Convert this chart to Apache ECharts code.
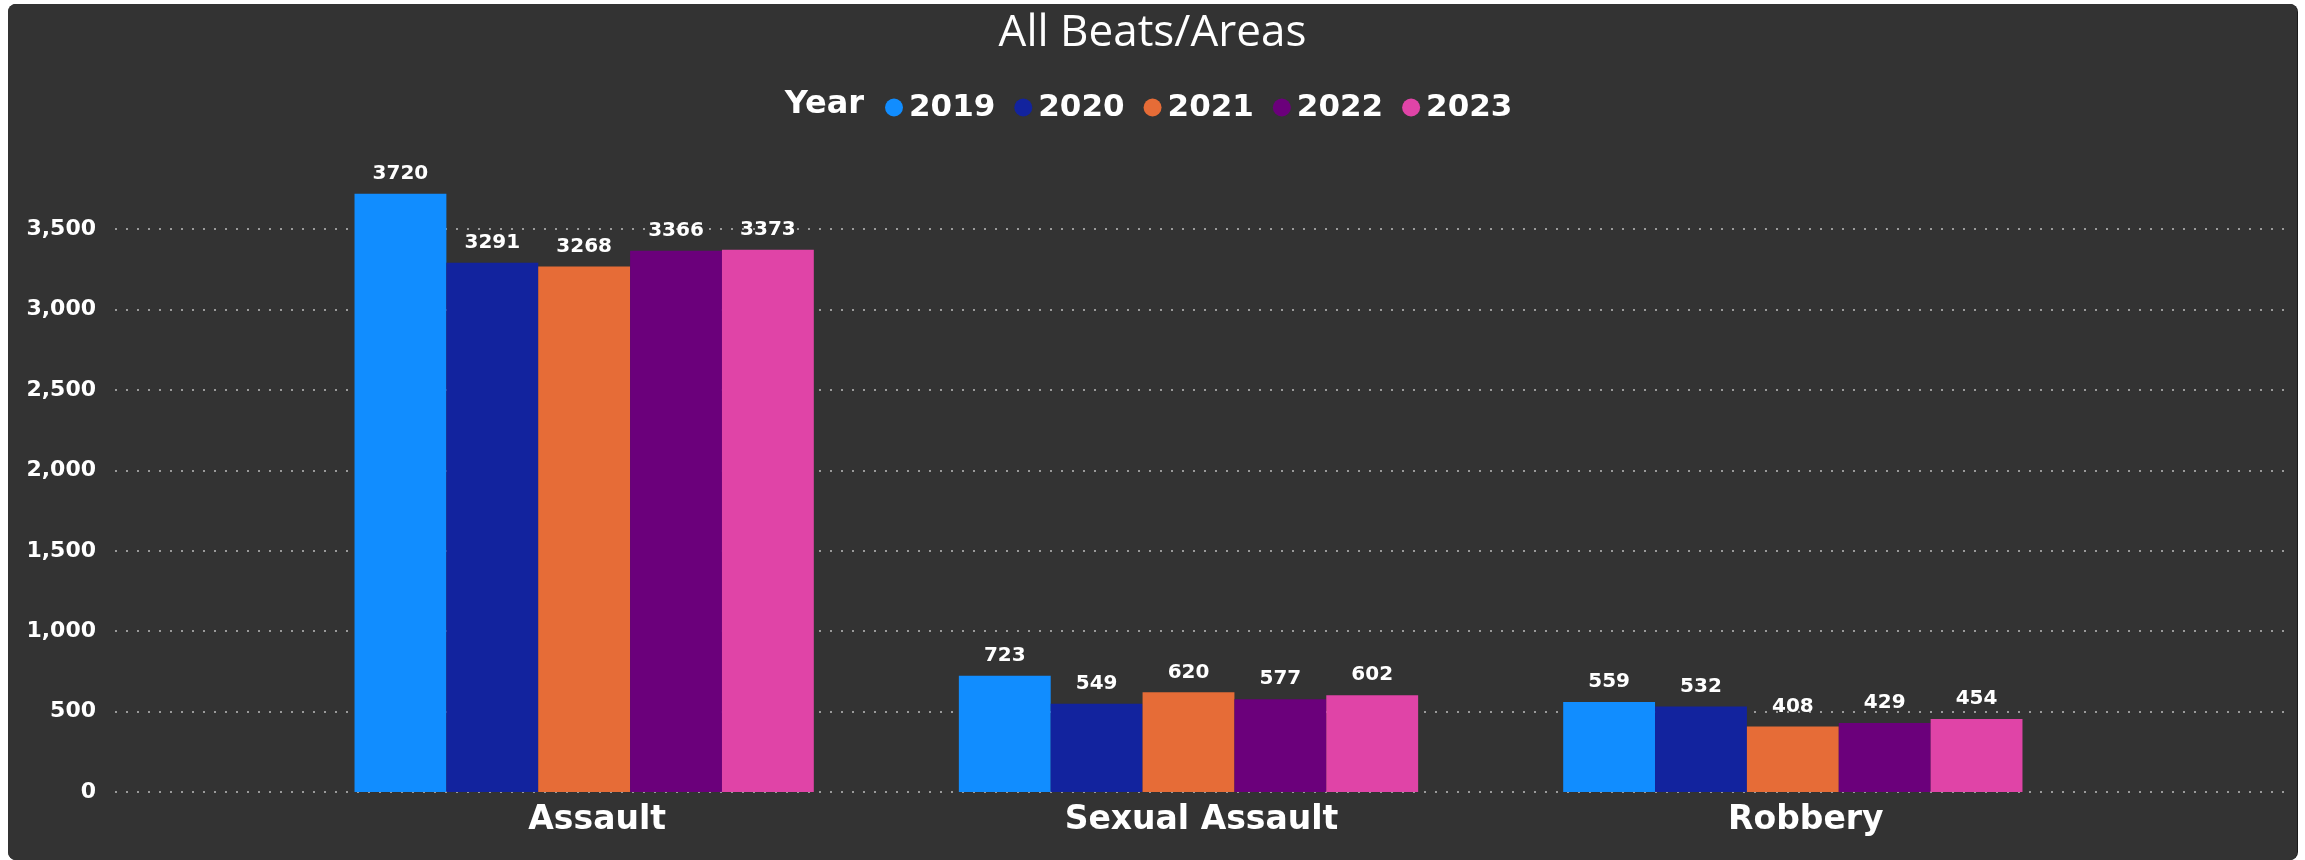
<!DOCTYPE html>
<html>
<head>
<meta charset="utf-8">
<script src="https://cdn.jsdelivr.net/npm/echarts@6/dist/echarts.min.js"></script>
<style>
  html, body { margin: 0; padding: 0; background: #ffffff; width: 2305px; height: 860px; overflow: hidden; }
  #card { position: absolute; left: 8px; top: 4px; width: 2289px; height: 856px; border-radius: 8px; overflow: hidden; background: #333333; box-shadow: 1px 0 0 #1a1a1a; }
  #chart { width: 2289px; height: 856px; }
</style>
</head>
<body>
<div id="card"><div id="chart"></div></div>
<script>
const categories = ['Assault', 'Sexual Assault', 'Robbery'];
const years = ['2019', '2020', '2021', '2022', '2023'];
const values2019 = [3720, 723, 559];
const values2020 = [3291, 549, 532];
const values2021 = [3268, 620, 408];
const values2022 = [3366, 577, 429];
const values2023 = [3373, 602, 454];
const colors = ['#118DFF', '#12239E', '#E66C37', '#6B007B', '#E044A7'];

const seriesValues = [values2019, values2020, values2021, values2022, values2023];
const boldFont = 'DejaVu Sans';

const chart = echarts.init(document.getElementById('chart'));
chart.setOption({
  backgroundColor: '#333333',
  animation: false,
  title: [
    { text: 'All Beats/Areas', left: 'center', top: 2,
      textStyle: { color: '#ffffff', fontFamily: 'Open Sans', fontWeight: 'normal', fontSize: 44 } },
    { text: 'Year', right: 2289 - 861, top: 80,
      textStyle: { color: '#ffffff', fontFamily: boldFont, fontWeight: 'bold', fontSize: 32 } }
  ],
  legend: {
    data: years,
    left: 872, top: 83,
    icon: 'circle', itemWidth: 18, itemHeight: 18, itemGap: 19,
    textStyle: { color: '#ffffff', fontFamily: boldFont, fontWeight: 'bold', fontSize: 31, padding: [0, 0, 0, 1] }
  },
  grid: [
    { left: 107, right: 11, top: 177, bottom: 68 },
    { left: 274, right: 202, top: 177, bottom: 68 }
  ],
  xAxis: [
    { type: 'category', gridIndex: 0, data: [''], show: false },
    { type: 'category', gridIndex: 1, data: categories,
      axisLine: { show: false }, axisTick: { show: false },
      axisLabel: { color: '#ffffff', fontFamily: boldFont, fontWeight: 'bold', fontSize: 33, margin: 12, padding: [0, 0, 0, 26] } }
  ],
  yAxis: [
    { type: 'value', gridIndex: 0, min: 0, max: 3800, interval: 500,
      axisLine: { show: false }, axisTick: { show: false },
      axisLabel: { color: '#ffffff', fontFamily: boldFont, fontWeight: 'bold', fontSize: 22, margin: 19, showMaxLabel: false },
      splitLine: { show: true, showMaxLine: false, lineStyle: { color: '#9a9a9a', width: 2, type: [2, 9] } } },
    { type: 'value', gridIndex: 1, min: 0, max: 3800, interval: 500, show: false,
      splitLine: { show: false } }
  ],
  series: years.map((y, i) => ({
    name: y,
    type: 'bar',
    xAxisIndex: 1, yAxisIndex: 1,
    data: seriesValues[i],
    barGap: '0%',
    barCategoryGap: '24%',
    itemStyle: { color: colors[i] },
    label: { show: true, position: 'top', distance: 10, color: '#ffffff',
      fontFamily: boldFont, fontWeight: 'bold', fontSize: 20 }
  }))
});
</script>
</body>
</html>
